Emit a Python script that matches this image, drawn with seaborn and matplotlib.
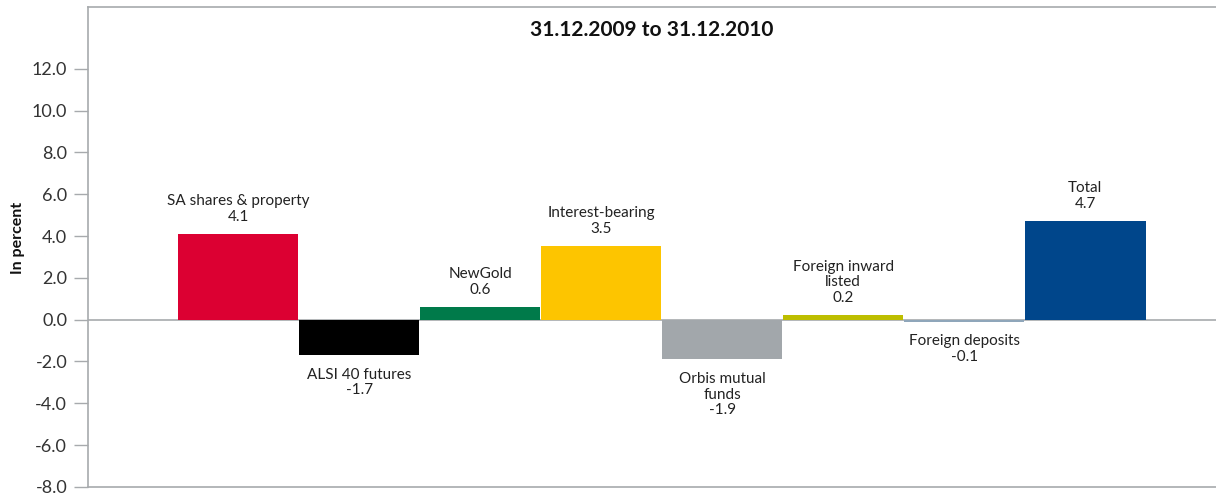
import matplotlib
matplotlib.use("Agg")
import matplotlib.pyplot as plt
import seaborn as sns
import pandas as pd

# === Chart data ===
categories = ["SA shares & property", "ALSI 40 futures", "NewGold", "Interest-bearing",
              "Orbis mutual funds", "Foreign inward listed", "Foreign deposits", "Total"]
label_text = ["SA shares & property", "ALSI 40 futures", "NewGold", "Interest-bearing",
              "Orbis mutual\nfunds", "Foreign inward\nlisted", "Foreign deposits", "Total"]
values = [4.1, -1.7, 0.6, 3.5, -1.9, 0.2, -0.1, 4.7]
colors = ["#DC0032", "#000000", "#007A4A", "#FDC500",
          "#A2A7AB", "#BDBE00", "#8FA6BA", "#00468B"]
title = "31.12.2009 to 31.12.2010"
y_ticks = [-8, -6, -4, -2, 0, 2, 4, 6, 8, 10, 12]

sns.set_style("white")
plt.rcParams["font.family"] = ["Lato", "DejaVu Sans"]

df = pd.DataFrame({"category": categories, "value": values})

fig = plt.figure(figsize=(12.16, 4.93), dpi=100)
ax = fig.add_axes([0.0724, 0.0122, 0.9276, 0.9736])

grid_col = "#A7AAAD"
ax.axhline(0, color=grid_col, lw=1.2, zorder=0)

sns.barplot(data=df, x="category", y="value", hue="category", palette=colors,
            order=categories, hue_order=categories, width=0.995, legend=False,
            saturation=1, linewidth=0, ax=ax, zorder=2)

# === Bar labels ===
for i, (txt, v) in enumerate(zip(label_text, values)):
    s = f"{txt}\n{v:.1f}"
    if v >= 0:
        ax.annotate(s, xy=(i, v), xytext=(0, 7.5), textcoords="offset points",
                    ha="center", va="bottom", fontsize=11, color="#222222",
                    linespacing=1.15)
    else:
        ax.annotate(s, xy=(i, v), xytext=(0, -9), textcoords="offset points",
                    ha="center", va="top", fontsize=11, color="#222222",
                    linespacing=1.15)

ax.text(0.5, 0.952, title, transform=ax.transAxes, ha="center", va="center",
        fontsize=15, fontweight="bold", color="#111111")

ax.set_xlim(-1.24, 8.08)
ax.set_ylim(-8, 14.95)
ax.set_yticks(y_ticks)
ax.set_yticklabels([f"{t:.1f}" for t in y_ticks], fontsize=13, color="#333333")
ax.tick_params(axis="y", left=True, length=10, width=1, color=grid_col, pad=5)
ax.set_xticks([])
ax.set_xlabel("")
ax.set_ylabel("In percent", fontsize=11.5, fontweight="bold", color="#111111")
ax.yaxis.set_label_coords(-0.056, 0.518)

for side in ["left", "top", "bottom"]:
    ax.spines[side].set_visible(True)
    ax.spines[side].set_color(grid_col)
    ax.spines[side].set_linewidth(1.2)
ax.spines["right"].set_visible(False)

fig.savefig("out.png", dpi=100)
